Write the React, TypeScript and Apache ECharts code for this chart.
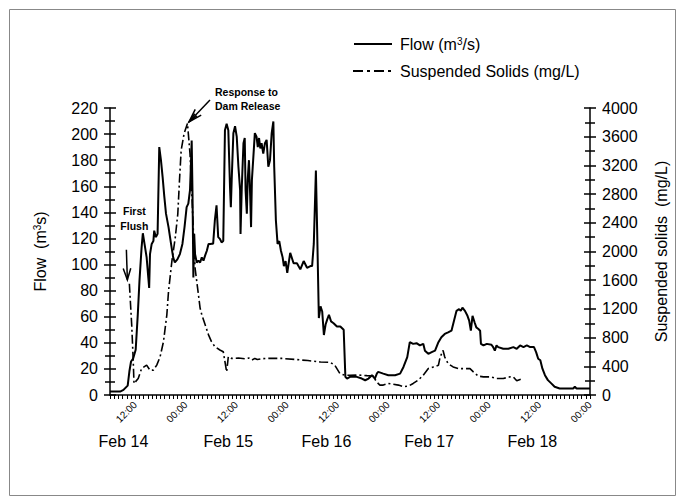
import React, { useEffect, useRef } from 'react';
import * as echarts from 'echarts';

// Time in hours from Feb 14 00:00
const flowHours = [
  6, 8.4, 9.2, 10.2, 10.6, 11, 11.5, 12.1, 12.6, 13, 13.5, 13.8, 14.2, 14.7, 15.1, 15.3, 15.5, 15.9, 16.3, 16.5,
  16.9, 17.3, 17.7, 18.1, 18.5, 18.9, 19.3, 19.9, 20.5, 21, 21.4, 22, 22.6, 23.2, 23.7, 24.2, 24.6, 25, 25.2, 25.4,
  25.6, 25.8, 26, 26.2, 26.6, 27, 27.4, 27.8, 28.2, 28.6, 29, 29.4, 29.8, 30.2, 30.5, 30.9, 31.3, 31.7, 32.1, 32.5,
  32.9, 33.3, 33.7, 34.1, 34.5, 34.7, 34.9, 35.3, 35.7, 36.1, 36.5, 36.9, 37, 37.3, 37.7, 38, 38.2, 38.5, 38.7, 39,
  39.3, 39.5, 39.7, 40, 40.4, 40.8, 41.1, 41.4, 41.7, 42, 42.4, 42.8, 43.2, 43.6, 44, 44.4, 44.8, 45, 45.4, 45.8,
  46.2, 46.6, 47, 47.3, 47.7, 48.1, 48.8, 49.6, 50.4, 51.2, 52, 52.8, 53.6, 54, 54.4, 54.9, 55.2, 55.6, 56, 56.4,
  56.8, 57.2, 57.6, 58, 58.5, 59.1, 59.9, 60.7, 61.5, 61.9, 62.3, 63, 64.6, 65.8, 66.6, 67.4, 68.2, 68.9, 69.4, 69.7,
  70.9, 72.1, 73.7, 74.9, 75.7, 76.6, 77.2, 78, 78.8, 79.6, 80.4, 80.8, 81.6, 82.4, 83.2, 84, 84.7, 85.5, 86.3, 87.1,
  87.7, 88.3, 88.9, 89.3, 89.7, 90.3, 90.9, 91.3, 91.7, 92.1, 92.6, 93, 93.5, 93.9, 94.1, 94.7, 95.5, 96.6, 97, 97.4,
  97.8, 98.2, 99.4, 100.6, 101.8, 102.6, 103.4, 104.2, 105, 105.8, 106.7, 107.2, 107.7, 108.2, 108.7, 109.3, 110, 110.8, 111.6, 112.8,
  114.4, 116, 116.4, 116.8, 120,
];
const flowValues = [
  2.6, 2.6, 3.9, 7.2, 18, 25.7, 28, 34.7, 61.8, 87.5, 113, 124, 115.8, 105.5, 90, 82, 108, 115.8, 118, 126,
  121, 123.5, 190, 180, 167, 152, 139, 128.7, 115.8, 105.5, 101.6, 104, 108, 115.8, 128.7, 144, 146.7, 157, 175, 195,
  154, 90, 123.5, 108, 101.6, 103, 101.6, 105.5, 103, 107, 110.6, 115.8, 115.8, 116, 116, 133.8, 145.4, 121, 119.7, 117,
  118, 203, 208, 203, 159.5, 144, 164.7, 200.7, 206, 198, 175, 157, 123.5, 159.5, 193, 197, 157, 139, 164.7, 180,
  152, 128.7, 164.7, 180, 200.7, 198, 190, 197, 189, 193, 185, 193, 195.6, 175, 180, 200.7, 209.7, 175, 133.8, 115.8,
  118, 110.6, 105.5, 98.8, 102.7, 93.7, 109, 101, 101, 96.3, 102.7, 97.5, 98.8, 98.8, 115.8, 172, 126, 59, 68, 64,
  46, 54, 58, 61.5, 56.4, 55, 52.5, 52.5, 50, 14, 12.6, 13.9, 13.9, 12.6, 11.3, 12.6, 15.2, 12.6, 16.5, 17.7,
  16.4, 15.2, 15.2, 16.4, 21.5, 29, 40.5, 39.2, 39.7, 38, 39.2, 34, 31.6, 32.9, 34, 40.5, 44.3, 46.8, 48, 49.3,
  57, 64.5, 65.8, 64.5, 67, 64.5, 60.7, 57, 49.3, 60.7, 55.6, 51.8, 50.6, 49.3, 39.2, 38, 39.2, 38.5, 36.7, 34,
  38, 36.7, 35.4, 35.4, 36.7, 35.4, 38, 36.7, 38, 36.7, 36.7, 32.9, 27.8, 26.6, 20.2, 15.2, 11.4, 8.9, 6.3, 5,
  5, 5, 6.3, 5, 5,
];

const ssHours = [
  10.6, 11.15, 11.5, 11.7, 12.7, 13.5, 14.7, 15.5, 16.3, 17.1, 17.9, 18.7, 19.5, 19.9, 20.7, 21.5, 22.1, 22.5, 22.9, 23.6,
  24.4, 25, 25.4, 25.8, 26.2, 26.8, 27.4, 27.8, 28.6, 29.4, 30.1, 30.9, 32.1, 32.9, 33.7, 34.1, 34.9, 36.5, 38, 39,
  39.7, 40.4, 41, 42, 43.6, 46.8, 50, 53, 56, 58.3, 59.4, 60.6, 61.8, 63, 65, 67, 68.5, 69.3, 70.1, 70.9,
  72.1, 74.5, 75.7, 76.9, 78, 79.2, 80.4, 81.6, 82.8, 84, 84.4, 85.1, 85.5, 86.3, 87.5, 88.7, 90.3, 91.5, 92.3, 93.5,
  94.7, 96.3, 97.8, 99.4, 101, 101.8, 102.6, 103.4, 104.2,
];
const ssValues = [
  1550, 982, 509, 160, 229, 369, 417, 346, 346, 417, 533, 744, 1118, 1445, 1867, 2194, 2522, 2989, 3410, 3645,
  3785, 3364, 2849, 2288, 1773, 1492, 1211, 1119, 978, 838, 744, 674, 627, 604, 323, 533, 510, 515, 505, 515,
  487, 510, 495, 505, 510, 510, 495, 480, 460, 455, 414, 299, 276, 275, 278, 270, 265, 184, 138, 138,
  161, 138, 115, 124, 161, 207, 276, 368, 391, 414, 529, 621, 529, 437, 391, 368, 368, 368, 322, 262,
  253, 253, 230, 230, 253, 250, 198, 216, 230,
];

const hourTickValues = [12, 24, 36, 48, 60, 72, 84, 96, 108, 120];
const dateLabelHours = [9.2, 34.1, 57.4, 81.8, 106.3];
const dateLabels = ['Feb 14', 'Feb 15', 'Feb 16', 'Feb 17', 'Feb 18'];
const legendLabels = ['Flow (m{sup|3}/s)', 'Suspended Solids (mg/L)'];

const FONT = '"Liberation Sans", Arial, sans-serif';
const SS_DASH = [9, 3, 2, 3];
const SUP = { fontSize: 10, fontFamily: FONT, verticalAlign: 'top', lineHeight: 10, color: '#000' };

function arrowHead(tip: number[], from: number[], len: number, ang: number) {
  const dx = from[0] - tip[0];
  const dy = from[1] - tip[1];
  const d = Math.hypot(dx, dy);
  const ux = dx / d, uy = dy / d;
  const rot = (a: number) => [
    tip[0] + len * (ux * Math.cos(a) - uy * Math.sin(a)),
    tip[1] + len * (ux * Math.sin(a) + uy * Math.cos(a)),
  ];
  return [rot(ang), tip, rot(-ang)];
}

export default function App() {
  const ref = useRef<HTMLDivElement>(null);
  useEffect(() => {
    document.body.style.margin = '0';
    const chart = echarts.init(ref.current!, null, { renderer: 'svg' });
    const flowData = flowHours.map((h, i) => [h, flowValues[i]]);
    const ssData = ssHours.map((h, i) => [h, ssValues[i]]);

    const yBase = (pos: 'left' | 'right', max: number, interval: number, inside: boolean, main: boolean) => ({
      type: 'value',
      position: pos,
      min: 0,
      max,
      interval,
      offset: 0,
      splitLine: { show: false },
      axisLine: { show: main, lineStyle: { color: '#000', width: 1.5 } },
      axisTick: { show: true, inside, length: 6, lineStyle: { color: '#000', width: 1.5 } },
      minorTick: { show: true, splitNumber: 2, length: 5, lineStyle: { color: '#000', width: 1.5 } },
      axisLabel: { show: main, color: '#000', fontSize: 16, fontFamily: FONT, margin: 12, formatter: (v: number) => String(v) },
    });

    const option: any = {
      animation: false,
      grid: { left: 110, right: 95, top: 108, bottom: 109, containLabel: false, outerBoundsMode: 'none' },
      xAxis: [
        {
          type: 'value',
          position: 'bottom',
          min: 6,
          max: 120,
          interval: 1,
          splitLine: { show: false },
          axisLine: { show: true, onZero: false, lineStyle: { color: '#000', width: 1.5 } },
          axisTick: { show: true, length: 4, lineStyle: { color: '#000', width: 1 } },
          axisLabel: { show: false },
        },
        {
          type: 'value',
          position: 'bottom',
          offset: 0,
          min: 6,
          max: 120,
          splitLine: { show: false },
          axisLine: { show: false, onZero: false },
          axisTick: { show: false },
          axisLabel: {
            show: true,
            customValues: hourTickValues,
            rotate: 45,
            fontSize: 10,
            fontFamily: FONT,
            color: '#000',
            margin: 8,
            formatter: (v: number) => (v % 24 === 0 ? '00:00' : '12:00'),
          },
        },
        {
          type: 'value',
          position: 'bottom',
          offset: 0,
          min: 6,
          max: 120,
          splitLine: { show: false },
          axisLine: { show: false, onZero: false },
          axisTick: { show: false },
          axisLabel: {
            show: true,
            customValues: dateLabelHours,
            fontSize: 16,
            fontFamily: FONT,
            color: '#000',
            margin: 38,
            formatter: (v: number) => {
              const i = dateLabelHours.findIndex((d) => Math.abs(d - v) < 0.01);
              return i >= 0 ? dateLabels[i] : '';
            },
          },
        },
      ],
      yAxis: [
        {
          ...yBase('left', 220, 20, false, true),
          name: 'Flow  (m{sup|3}s)',
          nameLocation: 'middle',
          nameRotate: 90,
          nameGap: 62,
          nameTextStyle: { fontSize: 16, fontFamily: FONT, color: '#000', rich: { sup: SUP } },
        },
        {
          ...yBase('right', 4000, 400, false, true),
          name: 'Suspended solids  (mg/L)',
          nameLocation: 'middle',
          nameRotate: 90,
          nameGap: 63,
          nameTextStyle: { fontSize: 16, fontFamily: FONT, color: '#000' },
        },
        yBase('left', 220, 20, true, false),
        yBase('right', 4000, 400, true, false),
      ],
      series: [
        {
          name: 'Flow',
          type: 'line',
          xAxisIndex: 0,
          yAxisIndex: 0,
          data: flowData,
          symbol: 'none',
          lineStyle: { color: '#000', width: 2 },
          itemStyle: { color: '#000' },
          z: 3,
        },
        {
          name: 'Suspended Solids',
          type: 'line',
          xAxisIndex: 0,
          yAxisIndex: 1,
          data: ssData,
          symbol: 'none',
          lineStyle: { color: '#000', width: 1.6, type: SS_DASH },
          itemStyle: { color: '#000' },
          z: 2,
        },
      ],
    };
    chart.setOption(option);

    const ff = chart.convertToPixel({ seriesIndex: 1 }, [ssHours[0], ssValues[0]]) as number[];
    let peakIdx = 0;
    ssValues.forEach((v, i) => { if (v > ssValues[peakIdx]) peakIdx = i; });
    const pk = chart.convertToPixel({ seriesIndex: 1 }, [ssHours[peakIdx], ssValues[peakIdx]]) as number[];

    const ffTip = [ff[0] - 2, ff[1] - 4];
    const ffTop = [ffTip[0] - 1, ffTip[1] - 30];
    const pkTip = [pk[0] + 1.5, pk[1] - 1.5];
    const pkTail = [pkTip[0] + 21, pkTip[1] - 22];
    const lineStyle = { stroke: '#000', lineWidth: 1.5, fill: null };

    chart.setOption({
      graphic: [
        { type: 'rect', shape: { x: 9.5, y: 9.5, width: 666, height: 486 }, style: { fill: null, stroke: '#888', lineWidth: 1 }, silent: true },
        // legend
        { type: 'line', shape: { x1: 354, y1: 44, x2: 392, y2: 44 }, style: { stroke: '#000', lineWidth: 2 }, silent: true },
        {
          type: 'text', x: 400, y: 44,
          style: { text: legendLabels[0], fontSize: 16, fontFamily: FONT, fill: '#000', align: 'left', verticalAlign: 'middle', rich: { sup: SUP } },
          silent: true,
        },
        { type: 'line', shape: { x1: 353, y1: 71, x2: 393, y2: 71 }, style: { stroke: '#000', lineWidth: 2, lineDash: [10, 4, 3, 4] }, silent: true },
        {
          type: 'text', x: 400, y: 71,
          style: { text: legendLabels[1], fontSize: 16, fontFamily: FONT, fill: '#000', align: 'left', verticalAlign: 'middle' },
          silent: true,
        },
        // annotations
        { type: 'polyline', shape: { points: [ffTop, ffTip] }, style: lineStyle, silent: true },
        { type: 'polyline', shape: { points: arrowHead(ffTip, ffTop, 12, 0.32) }, style: lineStyle, silent: true },
        {
          type: 'text', x: ffTip[0] + 7, y: ffTip[1] - 61,
          style: { text: 'First\nFlush', fontSize: 10.5, fontWeight: 'bold', fontFamily: FONT, fill: '#000', align: 'center', verticalAlign: 'middle', lineHeight: 15 },
          silent: true,
        },
        { type: 'polyline', shape: { points: [pkTail, pkTip] }, style: lineStyle, silent: true },
        { type: 'polyline', shape: { points: arrowHead(pkTip, pkTail, 14, 0.3) }, style: lineStyle, silent: true },
        { type: 'polyline', shape: { points: arrowHead(pkTip, pkTail, 10, 0.15) }, style: lineStyle, silent: true },
        {
          type: 'text', x: pkTip[0] + 26, y: pkTip[1] - 23,
          style: { text: 'Response to\nDam Release', fontSize: 10.5, fontWeight: 'bold', fontFamily: FONT, fill: '#000', align: 'left', verticalAlign: 'middle', lineHeight: 14 },
          silent: true,
        },
      ],
    });

    return () => chart.dispose();
  }, []);
  return <div ref={ref} style={{ width: 685, height: 504 }} />;
}
